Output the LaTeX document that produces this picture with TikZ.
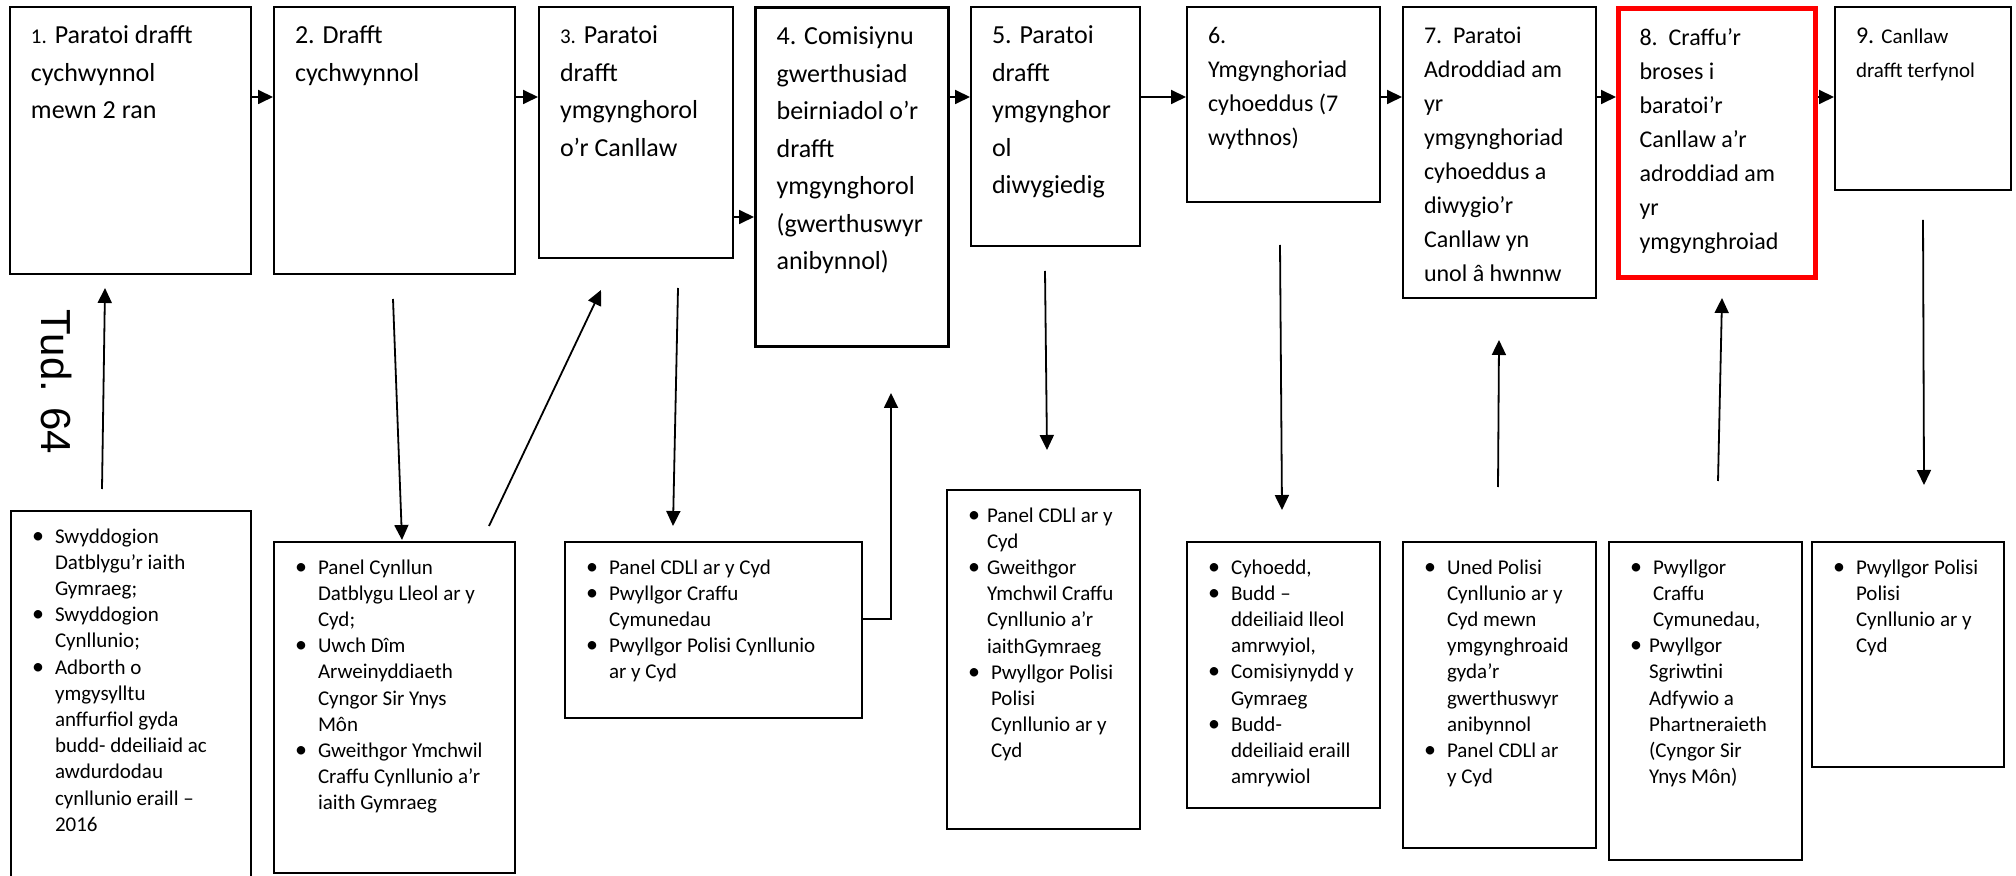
\documentclass[tikz,border=0pt]{standalone}
\usepackage{fontspec}
\setmainfont{Carlito}
\newfontfamily\tudfont{Liberation Sans}
\usetikzlibrary{arrows.meta}

\newdimen\px \px=0.5pt
\newdimen\firstgap
\newcommand{\bigstage}{\fontsize{13pt}{18.75pt}\selectfont}
\newcommand{\smallstage}{\fontsize{12pt}{17pt}\selectfont}
\newcommand{\stagetxt}[4][\bigstage]{\parbox[c][#3\px][t]{#2\px}{#1\raggedright\leftskip=21\px\rule{0pt}{37\px}#4}}
\newcommand{\listtxt}[3]{\parbox[c][#2\px][t]{#1\px}{\fontsize{10.5pt}{13.1pt}\selectfont\raggedright\global\firstgap=32\px #3}}
\newcommand{\itm}[1][0]{\par\leftskip=\dimexpr44\px+#1\px\relax\leavevmode\llap{\rule{0pt}{\firstgap}{\fontsize{12pt}{0pt}\selectfont\textbullet}\hspace{\dimexpr11\px+#1\px\relax}}\global\firstgap=0pt\ignorespaces}
\newcommand{\numsmall}[1]{{\fontsize{10.5pt}{0pt}\selectfont #1}}

\tikzset{
  stagebox/.style={draw, line width=1pt, anchor=north west, inner sep=0pt},
  listbox/.style={draw, line width=1pt, anchor=north west, inner sep=0pt},
  link/.style={-{Triangle[length=7.5pt,width=7pt]}, line width=0.9pt}
}

\begin{document}
\begin{tikzpicture}[x=0.5pt,y=-0.5pt]
\path[use as bounding box] (0,0) rectangle (2016,876);
\clip (0,0) rectangle (2016,876);

% steps
\node[stagebox] (t1) at (9,6) {\stagetxt{241}{267}{\numsmall{1.} Paratoi drafft\\cychwynnol\\mewn 2 ran}};
\node[stagebox] (t2) at (273,6) {\stagetxt{241}{267}{2. Drafft\\cychwynnol}};
\node[stagebox] (t3) at (538,6) {\stagetxt{194}{251}{\numsmall{3.} Paratoi\\drafft\\ymgynghorol\\o’r Canllaw}};
\node[stagebox, line width=1.6pt] (t4) at (754,6) {\stagetxt{193}{339}{4. Comisiynu\\gwerthusiad\\beirniadol o’r\\drafft\\ymgynghorol\\(gwerthuswyr\\anibynnol)}};
\node[stagebox] (t5) at (970,6) {\stagetxt{169}{239}{5. Paratoi\\drafft\\ymgynghor\\ol\\diwygiedig}};
\node[stagebox] (t6) at (1186,6) {\stagetxt[\smallstage]{193}{195}{6.\\Ymgynghoriad\\cyhoeddus (7\\wythnos)}};
\node[stagebox] (t7) at (1402,6) {\stagetxt[\smallstage]{193}{291}{7.\ \ Paratoi\\Adroddiad am\\yr\\ymgynghoriad\\cyhoeddus a\\diwygio’r\\Canllaw yn\\unol â hwnnw}};
\node[stagebox, draw=red, line width=2.5pt] (t8) at (1616,6) {\stagetxt[\smallstage]{197}{269}{8.\ \ Craffu’r\\broses i\\baratoi’r\\Canllaw a’r\\adroddiad am\\yr\\ymgynghroiad}};
\node[stagebox] (t9) at (1834,6) {\stagetxt[\smallstage]{176}{183}{9. {\fontsize{10.5pt}{0pt}\selectfont Canllaw\\drafft terfynol}}};

\node[rotate=-90, font=\tudfont\fontsize{21pt}{21pt}\selectfont] (tud) at (57,382) {Tud. 64};

% who is involved
\node[listbox] (b1) at (10,510) {\listtxt{240}{400}{\itm Swyddogion\\Datblygu’r iaith\\Gymraeg;\itm Swyddogion\\Cynllunio;\itm Adborth o\\ymgysylltu\\anffurfiol gyda\\budd- ddeiliaid ac\\awdurdodau\\cynllunio eraill –\\2016}};
\node[listbox] (b2) at (273,541) {\listtxt{241}{331}{\itm Panel Cynllun\\Datblygu Lleol ar y\\Cyd;\itm Uwch Dîm\\Arweinyddiaeth\\Cyngor Sir Ynys\\Môn\itm Gweithgor Ymchwil\\Craffu Cynllunio a’r\\iaith Gymraeg}};
\node[listbox] (b3) at (564,541) {\listtxt{297}{176}{\itm Panel CDLl ar y Cyd\itm Pwyllgor Craffu\\Cymunedau\itm Pwyllgor Polisi Cynllunio\\ar y Cyd}};
\node[listbox] (b4) at (946,489) {\listtxt{193}{339}{\itm[-4] Panel CDLl ar y\\Cyd\itm[-4] Gweithgor\\Ymchwil Craffu\\Cynllunio a’r\\iaithGymraeg\itm Pwyllgor Polisi\\Polisi\\Cynllunio ar y\\Cyd}};
\node[listbox] (b5) at (1186,541) {\listtxt{193}{266}{\itm Cyhoedd,\itm Budd –\\ddeiliaid lleol\\amrwyiol,\itm Comisiynydd y\\Gymraeg\itm Budd-\\ddeiliaid eraill\\amrywiol}};
\node[listbox] (b6) at (1402,541) {\listtxt{193}{306}{\itm Uned Polisi\\Cynllunio ar y\\Cyd mewn\\ymgynghroaid\\gyda’r\\gwerthuswyr\\anibynnol\itm Panel CDLl ar\\y Cyd}};
\node[listbox] (b7) at (1608,541) {\listtxt{193}{318}{\itm Pwyllgor\\Craffu\\Cymunedau,\itm[-4] Pwyllgor\\Sgriwtini\\Adfywio a\\Phartneraieth\\(Cyngor Sir\\Ynys Môn)}};
\node[listbox] (b8) at (1811,541) {\listtxt{192}{225}{\itm Pwyllgor Polisi\\Polisi\\Cynllunio ar y\\Cyd}};

% arrow ends
\coordinate (fb1) at (102,489);  \coordinate (ft1) at (105,288);
\coordinate (ft2) at (393,299);  \coordinate (fb2) at (402,540);
\coordinate (fb2d) at (489,526); \coordinate (ft3d) at (601,290);
\coordinate (ft3) at (678,288);  \coordinate (fb3) at (673,526);
\coordinate (ft4) at (891,393);
\coordinate (ft5) at (1045,271); \coordinate (fb4) at (1047,450);
\coordinate (ft6) at (1280,245); \coordinate (fb5) at (1282,510);
\coordinate (fb6) at (1498,487); \coordinate (ft7) at (1499,340);
\coordinate (fb7) at (1718,481); \coordinate (ft8) at (1722,298);
\coordinate (ft9) at (1923,220); \coordinate (fb8) at (1924,485);

\draw[link] (t1.east |- 0,97) -- (t2.west |- 0,97);
\draw[link] (t2.east |- 0,97) -- (t3.west |- 0,97);
\draw[link] (t3.east |- 0,217) -- (t4.west |- 0,217);
\draw[link] (t4.east |- 0,97) -- (t5.west |- 0,97);
\draw[link] (t5.east |- 0,97) -- (t6.west |- 0,97);
\draw[link] (t6.east |- 0,97) -- (t7.west |- 0,97);
\draw[link] (t7.east |- 0,97) -- (t8.west |- 0,97);
\draw[link] (t8.east |- 0,97) -- (t9.west |- 0,97);

\draw[link] (fb1) -- (ft1);
\draw[link] (ft2) -- (fb2);
\draw[link] (fb2d) -- (ft3d);
\draw[link] (ft3) -- (fb3);
\draw[link] (b3.east |- 0,619) -| (ft4);
\draw[link] (ft5) -- (fb4);
\draw[link] (ft6) -- (fb5);
\draw[link] (fb6) -- (ft7);
\draw[link] (fb7) -- (ft8);
\draw[link] (ft9) -- (fb8);
\end{tikzpicture}
\end{document}
